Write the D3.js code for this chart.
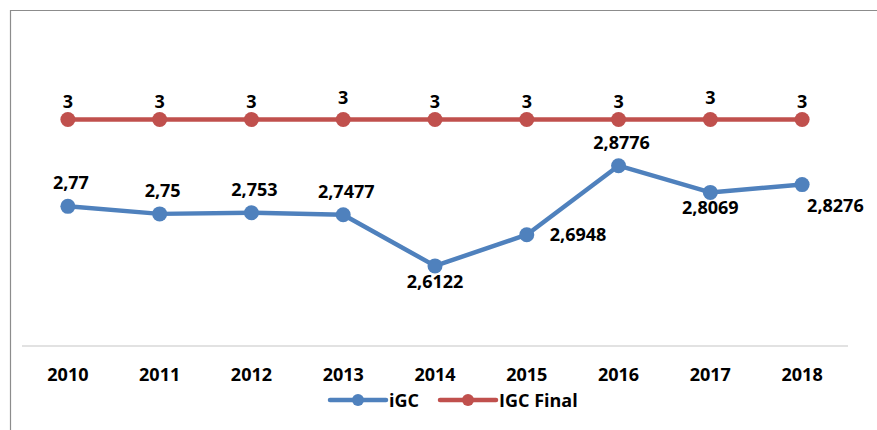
<!DOCTYPE html>
<html>
<head>
<meta charset="utf-8">
<script src="https://cdn.jsdelivr.net/npm/d3@7"></script>
<style>
  body { margin: 0; background: #fff; }
  text { font-family: "Open Sans", "Liberation Sans", sans-serif; font-weight: bold; fill: #000; }
</style>
</head>
<body>
<svg id="chart" width="877" height="430"></svg>
<script>
var years = ['2010', '2011', '2012', '2013', '2014', '2015', '2016', '2017', '2018'];
var igc = [2.77, 2.75, 2.753, 2.7477, 2.6122, 2.6948, 2.8776, 2.8069, 2.8276];
var igcFinal = [3, 3, 3, 3, 3, 3, 3, 3, 3];
// where each iGC value label sits relative to its point
var igcLabelPlace = ['above', 'above', 'above', 'above', 'below', 'right', 'above', 'below', 'rightBelow'];

var svg = d3.select('#chart');
var fmt = function (d) { return String(d).replace('.', ','); };

var plotLeft = 22, plotRight = 848, plotTop = 44, plotBottom = 346;

var x = d3.scaleBand().domain(years).range([plotLeft, plotRight]);
var cx = function (d, i) { return x(years[i]) + x.bandwidth() / 2; };
var y = d3.scaleLinear().domain([2.4, 3.2]).range([plotBottom, plotTop]);

// frame (cropped on right and bottom)
svg.append('path')
    .attr('d', 'M10.5,430 L10.5,10.5 L877,10.5')
    .attr('fill', 'none')
    .attr('stroke', '#8c8c8c')
    .attr('stroke-width', 1.2);

// category axis line
svg.append('line')
    .attr('x1', plotLeft).attr('x2', plotRight)
    .attr('y1', plotBottom).attr('y2', plotBottom)
    .attr('stroke', '#d9d9d9')
    .attr('stroke-width', 1.5);

svg.append('g').selectAll('text').data(years).enter().append('text')
    .attr('x', function (d) { return x(d) + x.bandwidth() / 2; })
    .attr('y', 381)
    .attr('text-anchor', 'middle')
    .style('font-size', '18px')
    .text(function (d) { return d; });

var line = d3.line().x(cx).y(function (d) { return y(d); });

function series(values, color) {
    var g = svg.append('g');
    g.append('path').datum(values)
        .attr('d', line)
        .attr('fill', 'none')
        .attr('stroke', color)
        .attr('stroke-width', 4.5)
        .attr('stroke-linejoin', 'round');
    g.selectAll('circle').data(values).enter().append('circle')
        .attr('cx', cx)
        .attr('cy', function (d) { return y(d); })
        .attr('r', 7.5)
        .attr('fill', color);
    return g;
}

series(igcFinal, '#c0504d');
series(igc, '#4f81bd');

// labels for IGC Final
svg.append('g').selectAll('text').data(igcFinal).enter().append('text')
    .attr('x', cx)
    .attr('y', function (d, i) { return y(d) - (i === 3 || i === 7 ? 16 : 12); })
    .attr('text-anchor', 'middle')
    .style('font-size', '18px')
    .text(fmt);

// labels for iGC
var place = {
    above:      { dx: 3,  dy: -17, anchor: 'middle' },
    below:      { dx: 0,  dy: 22,  anchor: 'middle' },
    right:      { dx: 23, dy: 6,   anchor: 'start' },
    rightBelow: { dx: 5,  dy: 27,  anchor: 'start' }
};
svg.append('g').selectAll('text').data(igc).enter().append('text')
    .attr('x', function (d, i) { return cx(d, i) + place[igcLabelPlace[i]].dx; })
    .attr('y', function (d, i) { return y(d) + place[igcLabelPlace[i]].dy; })
    .attr('text-anchor', function (d, i) { return place[igcLabelPlace[i]].anchor; })
    .style('font-size', '18px')
    .text(fmt);

// legend
var legend = [
    { name: 'iGC', color: '#4f81bd', x: 330 },
    { name: 'IGC Final', color: '#c0504d', x: 440 }
];
var lg = svg.append('g').selectAll('g').data(legend).enter().append('g')
    .attr('transform', function (d) { return 'translate(' + d.x + ',400)'; });
lg.append('line')
    .attr('x1', 0).attr('x2', 56)
    .attr('stroke', function (d) { return d.color; })
    .attr('stroke-width', 4.5)
    .attr('stroke-linecap', 'round');
lg.append('circle')
    .attr('cx', 28).attr('r', 6)
    .attr('fill', function (d) { return d.color; });
lg.append('text')
    .attr('x', 59).attr('y', 7)
    .style('font-size', '18px')
    .text(function (d) { return d.name; });
</script>
</body>
</html>
